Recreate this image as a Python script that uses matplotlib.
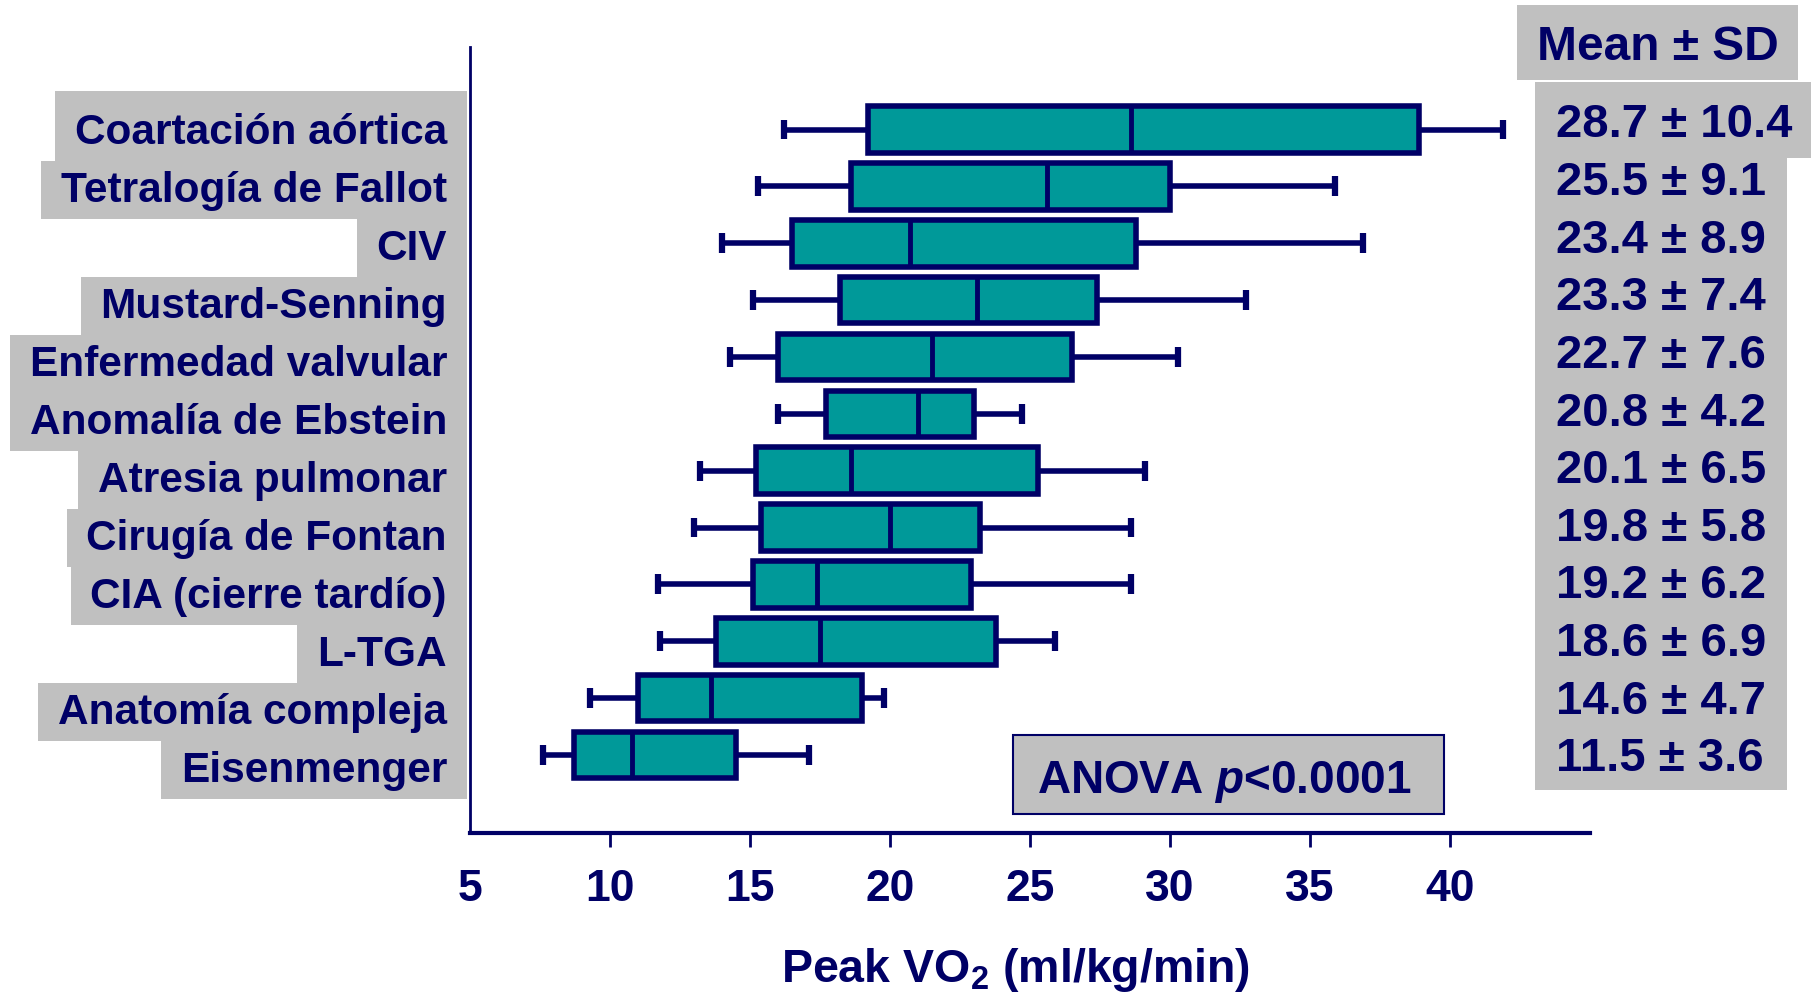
import matplotlib
matplotlib.use('Agg')
import matplotlib.pyplot as plt
from matplotlib import font_manager
from matplotlib.patches import Rectangle
from matplotlib.transforms import blended_transform_factory

groups = ['Coartación aórtica', 'Tetralogía de Fallot', 'CIV', 'Mustard-Senning',
          'Enfermedad valvular', 'Anomalía de Ebstein', 'Atresia pulmonar',
          'Cirugía de Fontan', 'CIA (cierre tardío)', 'L-TGA', 'Anatomía compleja',
          'Eisenmenger']
whislo = [16.2, 15.3, 14.0, 15.1, 14.3, 16.0, 13.2, 13.0, 11.7, 11.8, 9.3, 7.6]
q1 = [19.2, 18.6, 16.5, 18.2, 16.0, 17.7, 15.2, 15.4, 15.1, 13.8, 11.0, 8.7]
med = [28.6, 25.6, 20.7, 23.1, 21.5, 21.0, 18.6, 20.0, 17.4, 17.5, 13.6, 10.8]
q3 = [38.9, 30.0, 28.8, 27.4, 26.5, 23.0, 25.3, 23.2, 22.9, 23.8, 19.0, 14.5]
whishi = [41.9, 35.9, 36.9, 32.7, 30.3, 24.7, 29.1, 28.6, 28.6, 25.9, 19.8, 17.1]
means = [28.7, 25.5, 23.4, 23.3, 22.7, 20.8, 20.1, 19.8, 19.2, 18.6, 14.6, 11.5]
sds = [10.4, 9.1, 8.9, 7.4, 7.6, 4.2, 6.5, 5.8, 6.2, 6.9, 4.7, 3.6]
xticks = [5, 10, 15, 20, 25, 30, 35, 40]

NAVY = '#000066'
TEAL = '#009999'
GRAY = '#C0C0C0'
W, H = 1811, 995

names = {f.name for f in font_manager.fontManager.ttflist}
NARROW = 'Liberation Sans Narrow' if 'Liberation Sans Narrow' in names else 'Liberation Sans'
WIDE = ['Liberation Sans', 'DejaVu Sans']

plt.rcParams['mathtext.fontset'] = 'custom'
plt.rcParams['mathtext.rm'] = NARROW + ':bold'
plt.rcParams['mathtext.it'] = NARROW + ':italic:bold'
plt.rcParams['mathtext.bf'] = NARROW + ':bold'

fig = plt.figure(figsize=(W / 100, H / 100), dpi=100)
ax = fig.add_axes([470 / W, 1 - 834 / H, 1120 / W, 786 / H])
ax.patch.set_visible(False)

stats = [dict(whislo=whislo[i], q1=q1[i], med=med[i], q3=q3[i], whishi=whishi[i], fliers=[])
         for i in range(len(groups))]
pos = list(range(len(groups)))
ax.bxp(stats, positions=pos, widths=0.82, orientation='horizontal', patch_artist=True,
       capwidths=0.35, showfliers=False, manage_ticks=False,
       boxprops=dict(facecolor=TEAL, edgecolor=NAVY, linewidth=4),
       whiskerprops=dict(color=NAVY, linewidth=4, solid_capstyle='butt'),
       capprops=dict(color=NAVY, linewidth=4.5, solid_capstyle='butt'),
       medianprops=dict(color=NAVY, linewidth=3.5, solid_capstyle='butt'))

ax.set_xlim(5, 45)
ax.set_ylim(12.372, -1.451)
for s in ['top', 'right']:
    ax.spines[s].set_visible(False)
ax.spines['left'].set_color(NAVY)
ax.spines['left'].set_linewidth(2)
ax.spines['bottom'].set_color(NAVY)
ax.spines['bottom'].set_linewidth(3)
ax.set_yticks([])
ax.set_xticks(xticks)
ax.set_xticklabels([str(t) for t in xticks], fontsize=32, fontweight='bold',
                   family=NARROW, color=NAVY)
ax.tick_params(axis='x', direction='out', length=10, width=2, color=NAVY, pad=15)
ax.xaxis.get_major_ticks()[0].tick1line.set_visible(False)

fig.text(1016 / W, 1 - 970 / H, 'Peak VO$_2$ (ml/kg/min)', ha='center', va='center',
         fontsize=33.5, fontweight='bold', family=NARROW, color=NAVY)

# category labels with grey backgrounds
tr = blended_transform_factory(fig.transFigure, ax.transData)
renderer = fig.canvas.get_renderer()
row_px = ax.transData.transform((0, 0))[1] - ax.transData.transform((0, 1))[1]
for i, g in enumerate(groups):
    ly = 0.04 + i * 1.021
    t = fig.text(447 / W, ly, g, transform=tr, ha='right', va='center', fontsize=30.5,
                 fontweight='bold', family=WIDE, color=NAVY, zorder=5)
    bb = t.get_window_extent(renderer)
    cy = ax.transData.transform((0, ly))[1]
    step = row_px * 1.021
    top = cy + step / 2 + (12 if i == 0 else 0)
    bot = cy - step / 2
    fig.add_artist(Rectangle(((bb.x0 - 20) / W, bot / H), (467 - bb.x0 + 20) / W, (top - bot) / H,
                             transform=fig.transFigure, facecolor=GRAY, edgecolor='none', zorder=-1))

# mean +- SD column
fig.add_artist(Rectangle((1517 / W, 1 - 81 / H), 281 / W, 75 / H, transform=fig.transFigure,
                         facecolor=GRAY, edgecolor='none', zorder=-1))
fig.add_artist(Rectangle((1535 / W, 1 - 791 / H), 252 / W, 708 / H, transform=fig.transFigure,
                         facecolor=GRAY, edgecolor='none', zorder=-1))
fig.add_artist(Rectangle((1535 / W, 1 - 159 / H), 276 / W, 76 / H, transform=fig.transFigure,
                         facecolor=GRAY, edgecolor='none', zorder=-1))
fig.text(1658 / W, 1 - 48 / H, 'Mean ± SD', ha='center', va='center', fontsize=34.5,
         fontweight='bold', family=WIDE, color=NAVY)
for i in range(len(groups)):
    fig.text(1556 / W, -0.09 + i * 1.0136, '{:.1f} ± {:.1f}'.format(means[i], sds[i]),
             transform=tr, ha='left', va='center', fontsize=34, fontweight='bold',
             family=WIDE, color=NAVY)

# ANOVA box
fig.add_artist(Rectangle((1013 / W, 1 - 815 / H), 431 / W, 79 / H, transform=fig.transFigure,
                         facecolor=GRAY, edgecolor=NAVY, linewidth=1.5, zorder=3))
fig.text(1224 / W, 1 - 782 / H, 'ANOVA $p$<0.0001', ha='center', va='center', fontsize=33,
         fontweight='bold', family=NARROW, color=NAVY, zorder=4)

fig.savefig('out.png', dpi=100)
